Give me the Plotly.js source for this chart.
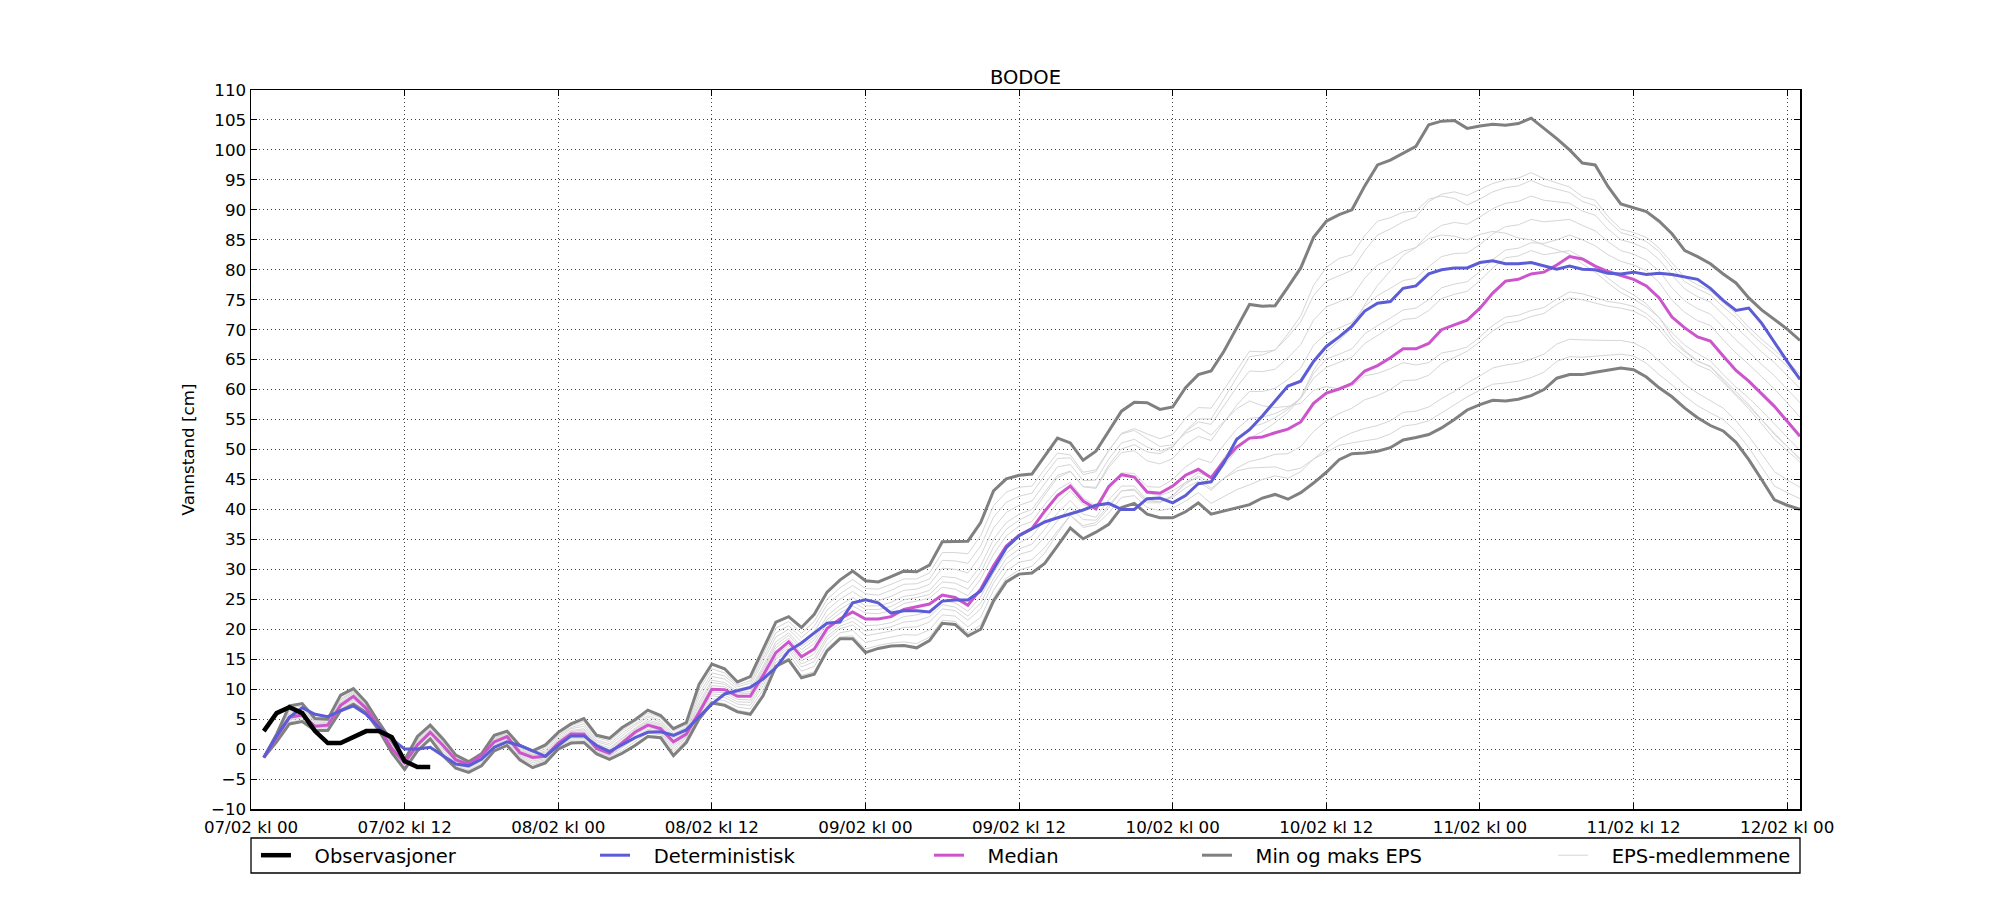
<!DOCTYPE html>
<html>
<head>
<meta charset="utf-8">
<script src="https://cdn.plot.ly/plotly-3.0.1.min.js"></script>
<style>
html,body{margin:0;padding:0;background:#ffffff;}
#chart{width:2000px;height:900px;}
</style>
</head>
<body>
<div id="chart"></div>
<script>
// ---------- data ----------
const chartTitle = "BODOE";
const yAxisLabel = "Vannstand [cm]";
const tickHours = [0, 12, 24, 36, 48, 60, 72, 84, 96, 108, 120];
const tickLabels = ["07/02 kl 00", "07/02 kl 12", "08/02 kl 00", "08/02 kl 12", "09/02 kl 00",
  "09/02 kl 12", "10/02 kl 00", "10/02 kl 12", "11/02 kl 00", "11/02 kl 12", "12/02 kl 00"];
const seriesNames = ["Observasjoner", "Deterministisk", "Median", "Min og maks EPS", "EPS-medlemmene"];
const firstHour = 1; // first value at 07/02 kl 01, hourly steps

const observed = [3, 6, 7, 6, 3, 1, 1, 2, 3, 3, 2, -2, -3, -3];

const deterministic = [-1.4, 2.2, 5.3, 6.9, 5.8, 5.4, 6.4, 7.2, 5.8, 3.6,
  1.7, 0, 0, 0.3, -1.1, -2.5, -2.8, -1.7, 0.3, 1.2,
  0.6, -0.3, -1.2, 0.6, 2.2, 2.2, 0.6, -0.4, 0.8, 1.9,
  2.8, 2.9, 2.3, 3.2, 5.4, 7.5, 9.2, 9.7, 10.3, 11.7,
  13.6, 16.4, 17.7, 19.4, 21, 21.2, 24.4, 24.9, 24.4, 22.7,
  23.1, 23.1, 22.9, 24.7, 24.9, 24.9, 26.4, 30, 33.6, 35.6,
  36.7, 37.9, 38.6, 39.2, 39.9, 40.7, 41, 40, 40, 41.8,
  41.9, 41.1, 42.3, 44.3, 44.6, 47.8, 51.7, 53.3, 55.6, 58.1,
  60.6, 61.4, 64.7, 67.2, 68.8, 70.6, 73.1, 74.4, 74.7, 76.9,
  77.3, 79.3, 80, 80.3, 80.3, 81.2, 81.5, 81, 81, 81.2,
  80.6, 80.1, 80.6, 80.1, 80, 79.4, 79.3, 79.6, 79.2, 79.4,
  79.2, 78.8, 78.4, 76.9, 74.9, 73.2, 73.6, 71.1, 67.8, 64.7,
  61.7];

const median = [-1.4, 2, 5.3, 5.7, 3.8, 4, 7.3, 8.8, 6.8, 3.6,
  0.1, -2.3, 0.7, 2.8, 0.6, -1.8, -2.5, -1.1, 1.2, 2.1,
  -0.6, -1.4, -1.2, 1, 2.5, 2.5, 0.1, -0.7, 1, 2.8,
  4, 3.4, 1.2, 2.5, 6.1, 10, 9.9, 8.8, 8.8, 12.3,
  16.1, 17.9, 15.4, 16.7, 20.1, 21.7, 22.9, 21.7, 21.7, 22.1,
  23.3, 23.8, 24.2, 25.7, 25.3, 24, 26.7, 30.6, 33.9, 35.7,
  36.8, 39.7, 42.3, 43.9, 41.4, 40.1, 43.8, 45.8, 45.4, 42.9,
  42.7, 43.9, 45.7, 46.7, 45.3, 48.1, 50.4, 51.9, 52.1, 52.8,
  53.4, 54.6, 57.7, 59.4, 60.1, 61, 63.1, 64, 65.3, 66.8,
  66.8, 67.7, 70, 70.8, 71.6, 73.6, 76.1, 78.1, 78.4, 79.3,
  79.6, 80.8, 82.2, 81.8, 80.6, 79.7, 79, 78.4, 77.3, 75.3,
  72.1, 70.3, 68.8, 68.1, 65.6, 63.2, 61.4, 59.3, 57.2, 54.7,
  52.2];

const epsMax = [-1.4, 2.5, 7.2, 7.6, 5.1, 5, 9, 10.1, 7.8, 4.4,
  1.3, -1.8, 2.1, 4, 1.7, -1, -2.1, -0.8, 2.3, 3,
  0.6, -0.3, 0.7, 2.8, 4.2, 5.1, 2.3, 1.8, 3.6, 4.9,
  6.5, 5.6, 3.4, 4.4, 10.8, 14.2, 13.4, 11.2, 12.1, 16.7,
  21.2, 22.1, 20.3, 22.5, 26.2, 28.2, 29.7, 28.1, 27.9, 28.8,
  29.7, 29.6, 30.7, 34.6, 34.7, 34.7, 37.8, 43.1, 45.1, 45.7,
  45.9, 48.9, 51.9, 51.1, 48.2, 49.7, 53, 56.4, 57.9, 57.8,
  56.7, 57.1, 60.3, 62.5, 63.1, 66.4, 70.3, 74.2, 73.9, 74,
  77.1, 80.3, 85.4, 88.1, 89.2, 90, 94, 97.5, 98.3, 99.4,
  100.6, 104.2, 104.8, 104.9, 103.6, 104, 104.3, 104.1, 104.4, 105.3,
  103.6, 101.9, 100, 97.8, 97.5, 93.9, 91, 90.4, 89.7, 88.1,
  86, 83.2, 82.2, 81, 79.3, 77.8, 75.3, 73.3, 71.7, 70.1,
  68.2];

const epsMin = [-1.4, 1.2, 4.2, 4.6, 3.1, 3.1, 6.4, 7.5, 6.1, 3.1,
  -0.6, -3.4, -0.3, 1.7, -1.1, -3.2, -3.9, -2.8, -0.3, 0.6,
  -1.8, -3.1, -2.3, 0, 1, 1.1, -0.8, -1.7, -0.7, 0.6,
  2.1, 1.9, -1.1, 1.1, 5, 7.7, 7.3, 6.2, 5.8, 8.9,
  13.8, 14.9, 11.9, 12.5, 16.4, 18.4, 18.4, 16.1, 16.8, 17.2,
  17.3, 16.9, 18.1, 21, 20.8, 18.9, 20, 24.7, 27.9, 29.2,
  29.4, 31, 33.9, 36.9, 35.1, 36.2, 37.5, 40.3, 41, 39.2,
  38.6, 38.6, 39.6, 41.1, 39.2, 39.7, 40.3, 40.8, 41.9, 42.5,
  41.7, 42.8, 44.4, 46.2, 48.3, 49.3, 49.4, 49.7, 50.3, 51.6,
  52, 52.5, 53.6, 55, 56.6, 57.5, 58.2, 58.1, 58.4, 59,
  60, 61.9, 62.5, 62.5, 62.9, 63.2, 63.6, 63.3, 62.1, 60.3,
  58.8, 56.9, 55.3, 54, 53.1, 51.2, 48.3, 45, 41.6, 40.7,
  40];

const member1 = [-1.4, 2.3, 6.5, 6.9, 4.7, 4.7, 8.4, 9.6, 7.5, 4.1,
  0.9, -2, 1.6, 3.6, 1.3, -1.3, -2.2, -0.9, 1.9, 2.7,
  0.2, -0.7, 0, 2.2, 3.6, 4.2, 1.5, 0.9, 2.7, 4.2,
  5.6, 4.8, 2.6, 3.7, 9.2, 12.7, 12.2, 10.4, 11, 15.2,
  19.4, 20.6, 18.6, 20.5, 24.1, 25.9, 27.3, 25.9, 25.7, 26.5,
  27.5, 27.6, 28.4, 31.5, 31.4, 31, 33.9, 38.7, 41.2, 42.2,
  42.7, 45.7, 48.5, 48.6, 45.8, 46.3, 49.8, 52.7, 53.5, 52.6,
  51.8, 52.5, 55.2, 57, 56.9, 60, 63.3, 66.4, 66.3, 66.6,
  68.8, 71.3, 75.7, 78.1, 79, 79.9, 83.2, 85.8, 86.8, 88,
  88.8, 91.4, 92.6, 93, 92.4, 93.4, 94.4, 95, 95.3, 96.2,
  95.2, 94.5, 93.8, 92.2, 91.6, 88.9, 86.8, 86.2, 85.4, 83.6,
  81.1, 78.7, 77.5, 76.5, 74.5, 72.7, 70.4, 68.4, 66.6, 64.7,
  62.6];

const member2 = [-1.4, 2.2, 6, 6.4, 4.3, 4.4, 7.9, 9.3, 7.2, 3.9,
  0.5, -2.1, 1.2, 3.2, 1, -1.5, -2.4, -1, 1.6, 2.4,
  -0.2, -1, -0.5, 1.6, 3.1, 3.4, 0.9, 0.2, 1.9, 3.5,
  4.9, 4.2, 2, 3.2, 7.8, 11.5, 11.1, 9.6, 10, 13.8,
  17.9, 19.4, 17.1, 18.7, 22.2, 24, 25.3, 23.9, 23.9, 24.5,
  25.5, 25.8, 26.5, 28.8, 28.6, 27.8, 30.6, 35, 37.8, 39.2,
  40, 42.9, 45.7, 46.4, 43.8, 43.5, 47, 49.5, 49.8, 48.1,
  47.6, 48.5, 50.8, 52.2, 51.5, 54.5, 57.4, 59.7, 59.7, 60.2,
  61.7, 63.6, 67.4, 69.4, 70.3, 71.2, 73.9, 75.7, 76.9, 78.2,
  78.6, 80.5, 82.2, 82.7, 82.8, 84.2, 86, 87.2, 87.5, 88.4,
  88, 88.2, 88.4, 87.4, 86.5, 84.7, 83.2, 82.6, 81.6, 79.8,
  77, 74.8, 73.5, 72.6, 70.4, 68.3, 66.3, 64.2, 62.3, 60.1,
  57.8];

const member3 = [-1.4, 1.7, 4.9, 5.3, 3.6, 3.7, 7, 8.3, 6.6, 3.4,
  -0.1, -2.7, 0.3, 2.4, 0, -2.3, -3, -1.7, 0.7, 1.6,
  -1, -2, -1.6, 0.6, 2, 2, -0.2, -1.1, 0.4, 2,
  3.3, 2.9, 0.4, 2, 5.7, 9.2, 9, 7.9, 7.8, 11.1,
  15.3, 16.9, 14.2, 15.2, 18.8, 20.5, 21.3, 19.7, 20, 20.4,
  21.2, 21.4, 22.1, 24.1, 23.7, 22.2, 24.4, 28.5, 31.8, 33.4,
  34.2, 36.7, 39.4, 41.5, 39.2, 38.7, 41.6, 43.9, 43.9, 41.6,
  41.3, 42, 43.6, 44.7, 43.2, 45.2, 46.9, 48, 48.5, 49.2,
  49.3, 50.5, 53, 54.8, 56, 56.9, 58.3, 59, 60, 61.5,
  61.6, 62.4, 64.3, 65.3, 66.4, 68, 69.8, 71.1, 71.4, 72.2,
  72.7, 74.2, 75.3, 75, 74.4, 73.9, 73.6, 73.1, 72, 70,
  67.4, 65.6, 64.1, 63.2, 61.2, 59, 56.8, 54.3, 51.7, 49.8,
  47.9];

const member4 = [-1.4, 1.4, 4.5, 4.9, 3.3, 3.4, 6.7, 7.9, 6.3, 3.2,
  -0.4, -3.1, 0, 2, -0.6, -2.8, -3.5, -2.3, 0.2, 1.1,
  -1.4, -2.6, -2, 0.3, 1.5, 1.5, -0.5, -1.4, -0.2, 1.3,
  2.7, 2.4, -0.4, 1.5, 5.3, 8.4, 8.1, 7, 6.7, 9.9,
  14.5, 15.8, 13, 13.8, 17.5, 19.4, 19.8, 17.8, 18.3, 18.7,
  19.1, 19, 19.9, 22.4, 22.2, 20.4, 22, 26.5, 29.7, 31.2,
  31.6, 33.6, 36.4, 39, 37, 37.4, 39.4, 42, 42.3, 40.3,
  39.8, 40.2, 41.4, 42.8, 41, 42.2, 43.3, 44.1, 45, 45.6,
  45.2, 46.3, 48.4, 50.2, 51.8, 52.8, 53.5, 54, 54.8, 56.2,
  56.4, 57.1, 58.5, 59.7, 61.1, 62.3, 63.6, 64.1, 64.4, 65.1,
  65.9, 67.6, 68.4, 68.3, 68.2, 68.2, 68.2, 67.8, 66.7, 64.8,
  62.8, 60.9, 59.4, 58.2, 56.9, 54.8, 52.2, 49.3, 46.3, 44.9,
  43.7];

const member5 = [-1.4, 2.4, 6.8, 7.2, 4.8, 4.8, 8.7, 9.8, 7.6, 4.2,
  1.1, -1.9, 1.8, 3.8, 1.5, -1.2, -2.2, -0.9, 2.1, 2.8,
  0.4, -0.5, 0.3, 2.4, 3.9, 4.6, 1.9, 1.3, 3.1, 4.5,
  6, 5.2, 3, 4, 9.9, 13.4, 12.7, 10.7, 11.4, 15.8,
  20.2, 21.3, 19.3, 21.3, 25, 26.9, 28.3, 26.8, 26.7, 27.5,
  28.4, 28.4, 29.4, 32.8, 32.8, 32.6, 35.6, 40.6, 42.9, 43.7,
  43.9, 46.7, 49.4, 49.1, 46.2, 46.6, 49.9, 52.6, 53.2, 51.8,
  50.5, 50.8, 52.7, 53.7, 52.4, 54.7, 56.8, 58.1, 57.3, 57,
  57.2, 57.7, 59.9, 60.5, 60.1, 60.6, 62.3, 62.7, 63.5, 64.5,
  64.1, 64.5, 66.1, 66.5, 67.1, 68.8, 70.7, 72.1, 72.4, 73.2,
  73.7, 75.1, 76.3, 76, 75.3, 74.7, 74.4, 73.9, 72.7, 70.8,
  68.1, 66.3, 64.7, 63.9, 61.8, 59.6, 57.5, 55, 52.5, 50.5,
  48.5];

const member6 = [-1.4, 1.3, 4.3, 4.7, 3.2, 3.2, 6.5, 7.6, 6.2, 3.2,
  -0.5, -3.3, -0.2, 1.8, -0.9, -3.1, -3.8, -2.6, -0.2, 0.8,
  -1.7, -2.9, -2.2, 0.1, 1.2, 1.2, -0.7, -1.6, -0.5, 0.8,
  2.3, 2.1, -0.9, 1.2, 5.1, 7.9, 7.6, 6.5, 6.1, 9.2,
  14, 15.2, 12.3, 12.9, 16.8, 18.7, 18.9, 16.7, 17.3, 17.7,
  17.9, 17.6, 18.7, 21.5, 21.3, 19.4, 20.7, 25.3, 28.5, 29.9,
  30.5, 32.7, 36, 39, 37.3, 37.8, 40.3, 43.1, 43.4, 41.4,
  41.3, 42.3, 44.2, 45.6, 44.4, 47.3, 49.9, 51.9, 53, 54.5,
  56.2, 58.7, 63.2, 66.3, 68.2, 70.3, 74.2, 77.4, 79.8, 82.4,
  83.7, 86, 87.4, 87.9, 87.6, 88.8, 90.2, 91.1, 91.4, 92.3,
  91.6, 91.4, 91.1, 89.8, 89.1, 86.8, 85, 84.4, 83.5, 81.7,
  79.1, 76.8, 75.5, 74.6, 72.5, 70.5, 68.4, 66.3, 64.5, 62.4,
  60.2];

const member7 = [-1.4, 2.1, 5.6, 6, 4, 4.2, 7.6, 9, 7, 3.7,
  0.3, -2.2, 0.9, 3, 0.8, -1.7, -2.4, -1.1, 1.4, 2.2,
  -0.4, -1.2, -0.9, 1.3, 2.8, 2.9, 0.4, -0.3, 1.4, 3.1,
  4.4, 3.7, 1.5, 2.8, 6.8, 10.6, 10.4, 9.2, 9.3, 13,
  16.9, 18.5, 16.1, 17.6, 21, 22.7, 23.9, 22.7, 22.6, 23.1,
  24.3, 24.7, 25.2, 27, 26.7, 25.6, 28.4, 32.5, 35.6, 37.2,
  38, 40.8, 43.3, 44.5, 41.9, 40.6, 44.1, 46, 45.4, 42.7,
  42.3, 43.1, 44.5, 45.3, 43.5, 45.2, 46.4, 46.9, 47, 47.1,
  46.4, 46.9, 48.4, 49.5, 50.7, 51.1, 51.5, 51.8, 52.6, 53.9,
  54.2, 54.8, 56.1, 57.4, 58.8, 59.9, 60.9, 61.1, 61.4, 62,
  62.9, 64.7, 65.5, 65.4, 65.6, 65.7, 65.9, 65.6, 64.4, 62.5,
  60.8, 58.9, 57.3, 56.1, 55, 53, 50.3, 47.1, 43.9, 42.8,
  41.8];

const member8 = [-1.4, 2.3, 6.3, 6.7, 4.5, 4.5, 8.2, 9.5, 7.3, 4,
  0.7, -2, 1.4, 3.4, 1.2, -1.4, -2.3, -1, 1.8, 2.6,
  0, -0.9, -0.3, 1.9, 3.4, 3.8, 1.2, 0.6, 2.3, 3.9,
  5.3, 4.5, 2.3, 3.5, 8.5, 12.1, 11.7, 10, 10.5, 14.5,
  18.7, 20, 17.9, 19.6, 23.2, 25, 26.3, 24.9, 24.8, 25.5,
  26.5, 26.7, 27.5, 30.2, 30, 29.4, 32.3, 36.9, 39.5, 40.7,
  41.4, 44.3, 47.1, 47.5, 44.8, 44.9, 48.4, 51.1, 51.7, 50.4,
  49.7, 50.5, 53, 54.6, 54.2, 57.3, 60.4, 63.1, 63, 63.4,
  65.3, 67.5, 71.6, 73.8, 74.7, 75.5, 78.6, 80.8, 81.8, 83.1,
  83.7, 85.2, 85.8, 85.6, 85, 85.9, 86.4, 86.1, 85.3, 85,
  84.1, 83.3, 82.6, 81, 79.6, 77.8, 76.2, 75.1, 73.8, 72,
  69.5, 67.4, 66, 64.8, 62.5, 60.4, 58.6, 56.5, 54.3, 52,
  49.8];

const member9 = [-1.4, 1.6, 4.8, 5.2, 3.5, 3.6, 6.9, 8.2, 6.5, 3.4,
  -0.3, -2.9, 0.2, 2.3, -0.3, -2.5, -3.2, -2, 0.5, 1.4,
  -1.2, -2.3, -1.8, 0.5, 1.8, 1.8, -0.4, -1.2, 0.2, 1.7,
  3.1, 2.7, 0, 1.8, 5.6, 8.9, 8.6, 7.5, 7.3, 10.6,
  15, 16.4, 13.7, 14.6, 18.3, 20.1, 20.7, 18.9, 19.3, 19.7,
  20.3, 20.4, 21.2, 23.4, 23.1, 21.5, 23.4, 27.7, 30.9, 32.5,
  33.1, 35.4, 38.1, 40.4, 38.3, 38.2, 40.7, 43.1, 43.2, 41.1,
  41.1, 42.3, 44.5, 46.1, 45.3, 48.6, 51.4, 53.7, 54.3, 55.3,
  56.7, 58.7, 62.7, 65.1, 65.9, 66.8, 69.3, 70.7, 71.9, 73.3,
  73.6, 75, 77, 77.6, 78, 79.7, 81.7, 83.3, 83.6, 84.5,
  84.4, 85, 85.8, 85, 84, 82.5, 81.4, 80.8, 79.8, 77.9,
  74.9, 72.9, 71.5, 70.7, 68.3, 66.1, 64.2, 62.1, 60.1, 57.8,
  55.4];

const member10 = [-1.4, 1.8, 5.1, 5.5, 3.7, 3.8, 7.1, 8.5, 6.7, 3.5,
  0, -2.5, 0.5, 2.6, 0.3, -2.1, -2.8, -1.4, 0.9, 1.8,
  -0.8, -1.7, -1.4, 0.8, 2.2, 2.2, -0.1, -0.9, 0.7, 2.4,
  3.6, 3.1, 0.7, 2.2, 5.9, 9.5, 9.4, 8.3, 8.2, 11.6,
  15.6, 17.3, 14.7, 15.9, 19.4, 21, 22, 20.6, 20.7, 21.1,
  22.1, 22.4, 23, 24.8, 24.4, 23, 25.4, 29.4, 32.7, 34.4,
  35.5, 38.3, 41.1, 43.1, 40.8, 39.9, 43.8, 46.1, 46, 43.8,
  43.7, 45, 47.1, 48.5, 47.8, 50.8, 53.4, 55.2, 55.4, 56,
  57, 58.5, 61.9, 63.7, 64.5, 65.4, 67.7, 69, 70.3, 71.7,
  71.9, 73.2, 75.2, 75.9, 76.4, 78.2, 80.3, 82, 82.3, 83.2,
  82.5, 82.8, 83.2, 82, 80.5, 78.6, 77, 75.8, 74.3, 72,
  68.8, 66.5, 64.8, 63.8, 61.5, 59.2, 57.2, 55, 52.8, 50.5,
  48.3];

const member11 = [-1.4, 2.1, 5.8, 6.2, 4.1, 4.3, 7.7, 9.1, 7.1, 3.8,
  0.4, -2.2, 1.1, 3.1, 0.9, -1.6, -2.4, -1, 1.5, 2.3,
  -0.3, -1.1, -0.7, 1.5, 2.9, 3.2, 0.7, -0.1, 1.7, 3.3,
  4.6, 4, 1.8, 3, 7.3, 11.1, 10.8, 9.4, 9.6, 13.4,
  17.4, 19, 16.6, 18.2, 21.6, 23.3, 24.6, 23.3, 23.3, 23.8,
  24.9, 25.3, 25.8, 27.9, 27.7, 26.7, 29.5, 33.7, 36.7, 38.2,
  39.3, 42.4, 45.3, 46.3, 43.8, 43.7, 47.4, 50.1, 50.8, 49.6,
  49.3, 50.4, 53.1, 55.1, 55.1, 58.5, 62.1, 65.5, 65.8, 66.6,
  69.3, 72.3, 77.4, 80.4, 81.9, 82.5, 85.7, 88.1, 88.7, 89.6,
  89.8, 91.8, 92.3, 91.9, 90.8, 91.8, 93, 93.7, 94, 94.9,
  94, 93.5, 92.9, 91.4, 90.7, 88.2, 86.2, 85.6, 84.7, 83,
  80.4, 78, 76.8, 75.8, 73.8, 72, 69.7, 67.7, 65.9, 63.9,
  61.8];

const members = [member1, member2, member3, member4, member5, member6,
  member7, member8, member9, member10, member11];

// ---------- styling ----------
const FONT = "DejaVu Sans";
const colors = {
  obs: "#000000",
  det: "#5c5cd6",
  med: "#cc55cc",
  minmax: "#808080",
  member: "#d6d6d6"
};
const PAD = "\u00a0\u00a0\u00a0";

function hoursFor(values) {
  const h = [];
  for (let i = 0; i < values.length; i++) h.push(firstHour + i);
  return h;
}

const traces = [];
members.forEach(function (vals, i) {
  traces.push({
    type: "scatter", mode: "lines", x: hoursFor(vals), y: vals,
    name: PAD + seriesNames[4],
    line: { color: colors.member, width: 1 },
    showlegend: i === 0, legend: "legend5", hoverinfo: "skip"
  });
});
traces.push({
  type: "scatter", mode: "lines", x: hoursFor(epsMin), y: epsMin,
  name: PAD + seriesNames[3],
  line: { color: colors.minmax, width: 3 }, showlegend: true, legend: "legend4"
});
traces.push({
  type: "scatter", mode: "lines", x: hoursFor(epsMax), y: epsMax,
  name: seriesNames[3], line: { color: colors.minmax, width: 3 }, showlegend: false
});
traces.push({
  type: "scatter", mode: "lines", x: hoursFor(median), y: median,
  name: PAD + seriesNames[2],
  line: { color: colors.med, width: 3 }, legend: "legend3"
});
traces.push({
  type: "scatter", mode: "lines", x: hoursFor(deterministic), y: deterministic,
  name: PAD + seriesNames[1],
  line: { color: colors.det, width: 3 }, legend: "legend2"
});
traces.push({
  type: "scatter", mode: "lines", x: hoursFor(observed), y: observed,
  name: PAD + seriesNames[0],
  line: { color: colors.obs, width: 4.5 }, legend: "legend"
});

function legendAt(x) {
  return {
    x: x, xanchor: "left", xref: "paper",
    y: -0.0647, yanchor: "middle", yref: "paper",
    orientation: "h", bgcolor: "rgba(0,0,0,0)", borderwidth: 0,
    font: { family: FONT, size: 19.5, color: "#000" }
  };
}

const axisCommon = {
  showline: true, linecolor: "#000", linewidth: 1.5, mirror: "ticks",
  ticks: "inside", ticklen: 6, tickwidth: 1, tickcolor: "#000",
  showgrid: true, gridcolor: "rgba(0,0,0,0.75)", gridwidth: 1, griddash: "1px,3px",
  zeroline: false,
  tickfont: { family: FONT, size: 16.7, color: "#000" }
};

const layout = {
  width: 2000, height: 900,
  paper_bgcolor: "#fff", plot_bgcolor: "#fff",
  margin: { l: 251, r: 200, t: 90, b: 91, pad: 0 },
  font: { family: FONT, color: "#000" },
  title: {
    text: chartTitle, font: { family: FONT, size: 19.5, color: "#000" },
    x: 0.5, xref: "paper", xanchor: "center",
    y: 0.9148, yref: "container", yanchor: "middle"
  },
  xaxis: Object.assign({}, axisCommon, {
    range: [0, 121], tickmode: "array", tickvals: tickHours, ticktext: tickLabels,
    ticklabelstandoff: 2
  }),
  yaxis: Object.assign({}, axisCommon, {
    range: [-10, 110], tickmode: "linear", tick0: 0, dtick: 5,
    title: { text: yAxisLabel, font: { family: FONT, size: 16.7, color: "#000" }, standoff: 12 }
  }),
  legend: legendAt(0.0032),
  legend2: legendAt(0.2221),
  legend3: legendAt(0.4377),
  legend4: legendAt(0.6107),
  legend5: legendAt(0.8406),
  shapes: [{
    type: "rect", xref: "paper", yref: "paper",
    x0: 0, x1: 1, y0: -0.0890, y1: -0.0403,
    line: { color: "#000", width: 1.3 }, fillcolor: "rgba(0,0,0,0)"
  }],
  showlegend: true
};

Plotly.newPlot("chart", traces, layout, { displayModeBar: false, staticPlot: true });
</script>
</body>
</html>
